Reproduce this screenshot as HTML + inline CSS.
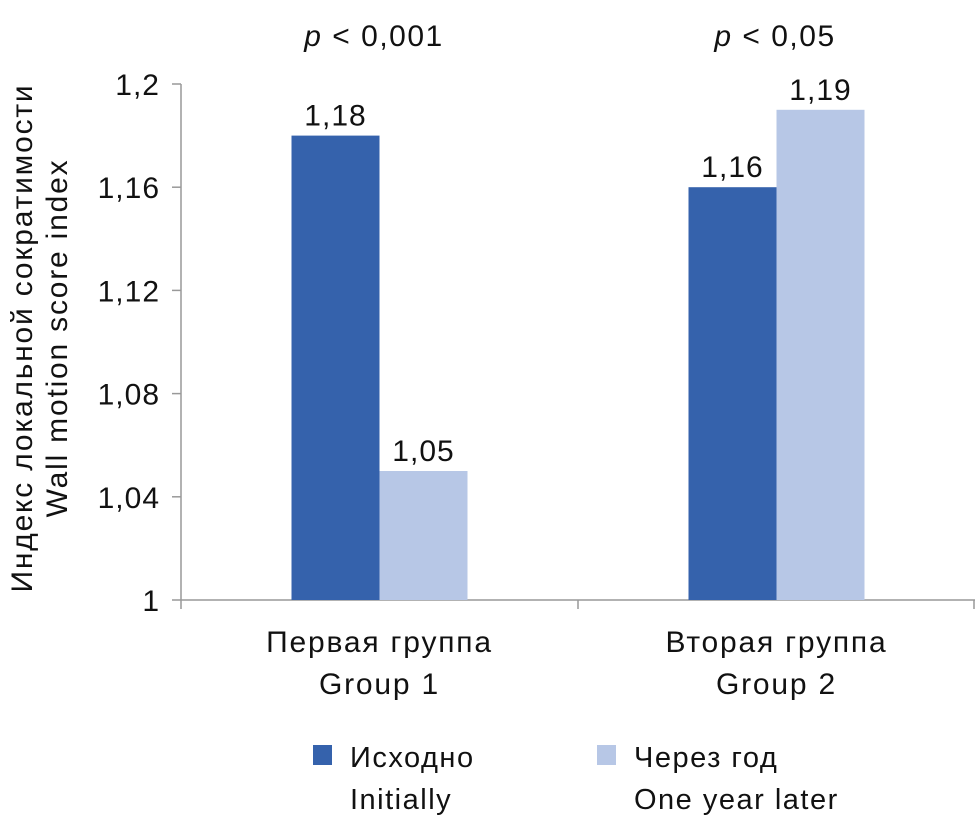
<!DOCTYPE html>
<html><head><meta charset="utf-8"><style>
html,body{margin:0;padding:0;background:#fff}
svg{display:block;font-family:"Liberation Sans",sans-serif}
</style></head><body>
<svg id="chart" width="975" height="819" viewBox="0 0 975 819">
<g id="axes"></g><g id="bars"></g><g id="labels"></g>
<text x="374" y="46" font-size="30" letter-spacing="1.5" text-anchor="middle" fill="#111"><tspan font-style="italic">p</tspan> &lt; 0,001</text>
<text x="775" y="46" font-size="30" letter-spacing="1.5" text-anchor="middle" fill="#111"><tspan font-style="italic">p</tspan> &lt; 0,05</text>
<g transform="translate(32,338) rotate(-90)">
<text x="0" y="0" font-size="30" letter-spacing="1.8" text-anchor="middle" fill="#111">Индекс локальной сократимости</text>
<text x="0" y="35" font-size="30" letter-spacing="1.8" text-anchor="middle" fill="#111">Wall motion score index</text>
</g>
<g>
<rect x="313" y="745" width="19" height="20" fill="#3562ac"/>
<text x="350" y="767" font-size="29" letter-spacing="1.5" fill="#111">Исходно</text>
<text x="350" y="809" font-size="29" letter-spacing="1.5" fill="#111">Initially</text>
<rect x="597" y="745" width="19" height="20" fill="#b7c7e6"/>
<text x="634" y="767" font-size="29" letter-spacing="1.5" fill="#111">Через год</text>
<text x="634" y="809" font-size="29" letter-spacing="1.5" fill="#111">One year later</text>
</g>
</svg>
<script>
const categoriesRu = ["Первая группа", "Вторая группа"];
const categoriesEn = ["Group 1", "Group 2"];
const initialValues = [1.18, 1.16];
const laterValues = [1.05, 1.19];
const yTicks = [1, 1.04, 1.08, 1.12, 1.16, 1.2];
const yTickLabels = ["1", "1,04", "1,08", "1,12", "1,16", "1,2"];
const valueLabelsInitial = ["1,18", "1,16"];
const valueLabelsLater = ["1,05", "1,19"];

const NS = "http://www.w3.org/2000/svg";
const x0 = 181, x1 = 975, yTop = 84, yBot = 600, yMin = 1, yMax = 1.2;
const y = v => yBot - (v - yMin) / (yMax - yMin) * (yBot - yTop);
const bandW = (x1 - x0) / categoriesRu.length;
const barW = 88;
const band = i => x0 + i * bandW;
function mk(tag, attrs, parent, text) {
  const e = document.createElementNS(NS, tag);
  for (const k in attrs) e.setAttribute(k, attrs[k]);
  if (text !== undefined) e.textContent = text;
  document.getElementById(parent).appendChild(e);
  return e;
}
let e;
e = mk("line", {x1: x0, y1: yTop, x2: x0, y2: yBot, stroke: "#999", "stroke-width": 1.5}, "axes");


e = mk("line", {x1: x0, y1: yBot, x2: x1, y2: yBot, stroke: "#999", "stroke-width": 1.5}, "axes");


yTicks.forEach((t, i) => {
  e = mk("line", {x1: x0 - 9, y1: y(t), x2: x0, y2: y(t), stroke: "#999", "stroke-width": 1.5}, "axes");
  
  
  e = mk("text", {x: 160, y: y(t) + 11, "font-size": 30, "letter-spacing": 1, "text-anchor": "end", fill: "#111"}, "labels", yTickLabels[i]);
  
  
});
for (let i = 0; i <= categoriesRu.length; i++) {
  e = mk("line", {x1: band(i) - (i === categoriesRu.length ? 1 : 0), y1: yBot, x2: band(i) - (i === categoriesRu.length ? 1 : 0), y2: yBot + 9, stroke: "#999", "stroke-width": 1.5}, "axes");
  
  
}
categoriesRu.forEach((c, i) => {
  const cx = band(i) + bandW / 2;
  const xa = cx - barW, xb = cx;
  e = mk("rect", {x: xa, y: y(initialValues[i]), width: barW, height: yBot - y(initialValues[i]), fill: "#3562ac"}, "bars");
  
  
  e = mk("rect", {x: xb, y: y(laterValues[i]), width: barW, height: yBot - y(laterValues[i]), fill: "#b7c7e6"}, "bars");
  
  
  e = mk("text", {x: xa + barW / 2, y: y(initialValues[i]) - 10, "font-size": 30, "letter-spacing": 1, "text-anchor": "middle", fill: "#111"}, "labels", valueLabelsInitial[i]);
  
  
  e = mk("text", {x: xb + barW / 2, y: y(laterValues[i]) - 10, "font-size": 30, "letter-spacing": 1, "text-anchor": "middle", fill: "#111"}, "labels", valueLabelsLater[i]);
  
  
  e = mk("text", {x: cx, y: 652, "font-size": 30, "letter-spacing": 1.8, "text-anchor": "middle", fill: "#111"}, "labels", c);
  
  
  e = mk("text", {x: cx, y: 694, "font-size": 30, "letter-spacing": 1.8, "text-anchor": "middle", fill: "#111"}, "labels", categoriesEn[i]);
  
  
});
</script>
</body></html>
